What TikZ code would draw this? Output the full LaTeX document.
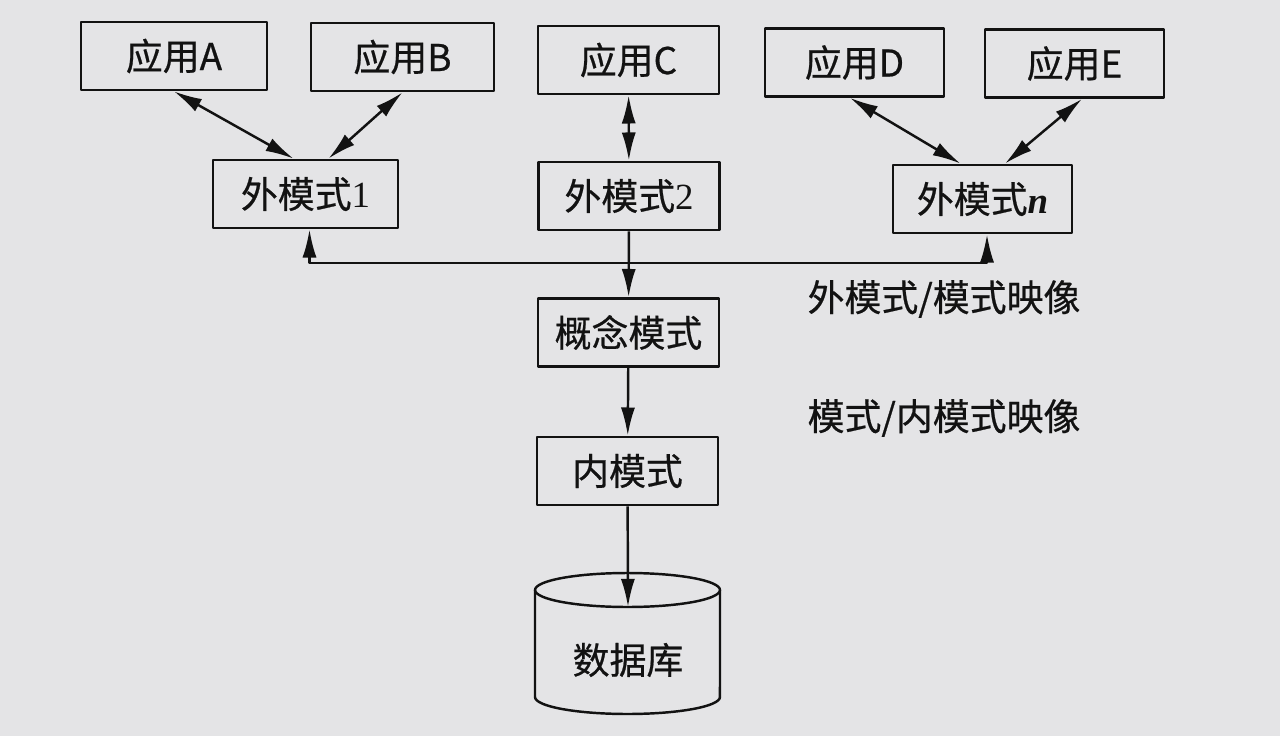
\documentclass[tikz,border=0pt]{standalone}
\usepackage{fontspec}
\setmainfont{Noto Sans CJK SC}[FakeBold=0.6]
\newfontfamily\serif{Liberation Serif}
\usetikzlibrary{arrows.meta}
\definecolor{paper}{RGB}{228,228,230}
\definecolor{ink}{RGB}{18,18,18}
\begin{document}
\begin{tikzpicture}[x=0.02cm,y=-0.02cm,line join=round,>={Latex[length=16pt,width=8pt]}]
	\tikzset{every node/.style={font=\fontsize{21pt}{25pt}\selectfont,text=ink},
		box/.style={draw=ink,line width=1.6pt,minimum width=3.62cm,minimum height=1.36cm,inner sep=0pt},
		conn/.style={draw=ink,line width=1.4pt}}
	\fill[paper] (0,0) rectangle (1280,736);
	\useasboundingbox (0,0) rectangle (1280,736);
	\node[box,minimum width=3.72cm] (appA) at (174,56) {应用A};
	\node[box,minimum width=3.66cm] (appB) at (402.5,57) {应用B};
	\node[box] (appC) at (628.5,60) {应用C};
	\node[box,minimum width=3.58cm] (appD) at (854.5,62.5) {应用D};
	\node[box,minimum width=3.58cm] (appE) at (1074.5,63.5) {应用E};
	\node[box,minimum width=3.7cm] (ext1) at (305.5,194) {外模式{\serif 1}};
	\node[box] (ext2) at (629,196) {外模式{\serif 2}};
	\node[box,minimum width=3.58cm] (extn) at (982.5,199) {外模式{\serif\bfseries\itshape n}};
	\node[box] (con) at (628.5,332.5) {概念模式};
	\node[box] (inner) at (627.5,471) {内模式};
	\node (map1) at (944,299) {外模式/模式映像};
	\node (map2) at (944,418) {模式/内模式映像};
	\node (db) at (628,660) {数据库};
	\coordinate (dbtop) at (628,607);
	\coordinate (bus) at (629,263);
	\draw[conn,<->] (appA.south) -- ([xshift=-0.24cm]ext1.north);
	\draw[conn,<->] (appB.south) -- ([xshift=0.46cm]ext1.north);
	\draw[conn,<->] (appC) -- (ext2);
	\draw[conn,<->] ([xshift=-0.09cm]appD.south) -- ([xshift=-0.44cm]extn.north);
	\draw[conn,<->] ([xshift=0.15cm]appE.south) -- ([xshift=0.45cm]extn.north);
	\draw[conn,->] (ext2) -- (con);
	\draw[conn,->] (bus) -| ([xshift=0.08cm]ext1.south);
	\draw[conn,->] (bus) -| ([xshift=0.09cm]extn.south);
	\draw[conn,->] (con) -- (inner);
	\draw[conn,->] (inner) -- (dbtop);
	\draw[conn] (535,590) -- (535,697) arc[start angle=180,end angle=360,x radius=1.85cm,y radius=0.34cm] -- (720,590);
	\draw[conn] (627.5,590) ellipse[x radius=1.85cm,y radius=0.34cm];
\end{tikzpicture}
\end{document}
